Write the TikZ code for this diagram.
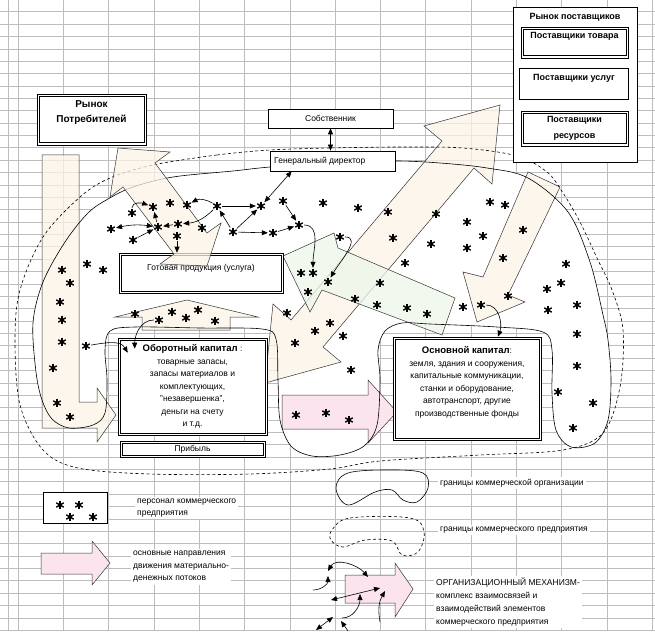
\documentclass[tikz,border=0pt]{standalone}
\usepackage{fontspec}
\setmainfont{Liberation Sans}
\usetikzlibrary{arrows.meta,calc}
\definecolor{flowpeach}{HTML}{FCF3E8}
\definecolor{flowgreen}{HTML}{EDF8EA}
\definecolor{flowpink}{HTML}{FCE4EF}
\definecolor{sheetgrid}{HTML}{BDBDBD}
\tikzset{
  gridline/.style={sheetgrid,line width=0.6pt},
  flow/.style={draw=black!80,line width=0.5pt,fill=flowpeach,fill opacity=0.75},
  flowgr/.style={flow,fill=flowgreen},
  flowpk/.style={flow,fill=flowpink,fill opacity=1},
  dbox/.style={draw,line width=0.6pt,fill=white,inner sep=0pt,path picture={
      \draw[line width=0.6pt] ([shift={(2.2pt,-2.2pt)}]path picture bounding box.north west)
        rectangle ([shift={(-2.2pt,2.2pt)}]path picture bounding box.south east);}},
  sbox/.style={draw,line width=0.6pt,fill=white,inner sep=0pt},
  pers/.style={circle,inner sep=0pt,minimum size=10pt,path picture={
      \foreach \a in {90,30,150}
        \draw[line width=1.4pt] (path picture bounding box.center) ++(\a:4.3pt) -- ++(\a+180:8.6pt);}},
  mech/.style={-{Triangle[length=6pt,width=5pt]},line width=0.6pt},
  mechtwo/.style={{Triangle[length=6pt,width=5pt]}-{Triangle[length=6pt,width=5pt]},line width=0.6pt},
  legtext/.style={fill=white,inner sep=2pt,anchor=west,align=left},
  headtext/.style={font=\fontsize{10}{15}\selectfont\bfseries,align=center},
  boldtext/.style={font=\fontsize{9}{16}\selectfont\bfseries,align=center}
}

\begin{document}
\begin{tikzpicture}[x=1pt,y=-1pt,font=\fontsize{8.5}{12.5}\selectfont]
\useasboundingbox (0,0) rectangle (655,631);
\fill[white] (0,0) rectangle (655,631);
\draw[gridline] (8,0) -- (8,631);
\foreach \i in {0,...,14}
  \draw[gridline] ({18+45.3*\i},0) -- ({18+45.3*\i},631);
\foreach \i in {0,...,50}
  \draw[gridline] (0,{11.7+12.37*\i}) -- (655,{11.7+12.37*\i});

\def\orgline{plot[smooth cycle,tension=0.55] coordinates {(270,167) (233,171) (173,177) (133,187) (108,199) (88,213) (65,242) (43,282) (33,323) (36,372) (42,400) (52,419) (69,428) (93,425) (105,413) (107,380) (105,350) (110,331) (135,327) (200,328) (262,329) (276,339) (278,380) (280,420) (291,446) (312,456) (340,455) (364,446) (377,425) (380,380) (378,350) (385,331) (402,323) (430,324) (497,327) (543,332) (552,350) (552,393) (556,430) (571,447) (595,443) (608,420) (611,380) (608,340) (603,315) (590,262) (568,212) (528,178) (487,168) (440,163) (395,161) (330,163)}}
\def\entline{plot[smooth cycle,tension=0.55] coordinates {(270,150) (217,155) (153,165) (110,178) (80,197) (43,237) (20,290) (15,340) (20,405) (43,450) (78,468) (150,474) (250,474) (330,469) (380,461) (480,455) (563,450) (603,433) (620,387) (623,330) (612,290) (597,258) (580,222) (563,193) (547,172) (517,156) (463,148) (400,147) (330,148)}}
\fill[white] \orgline;

\path[flow] (42,155) -- (79,155) -- (79,402) -- (97,402) -- (97,388) -- (116,415) -- (97,442) -- (97,428) -- (42,428) -- cycle;
\path[flow] (142,330) -- (142,317) -- (115,317) -- (187,300) -- (258,317) -- (230,317) -- (230,330) -- cycle;
\path[flow] (265,383) -- (341,362) -- (323,347) -- (474,168) -- (492,184) -- (500,105) -- (424,126) -- (442,141) -- (291,320) -- (273,304) -- cycle;
\path[flowgr] (455,298) -- (338,248) -- (334,233) -- (283,256) -- (310,312) -- (322,290) -- (442,335) -- cycle;
\path[flow] (528,172) -- (560,187) -- (508,295) -- (525,302) -- (477,322) -- (463,272) -- (483,277) -- cycle;
\path[flowpk] (282,395) -- (368,395) -- (368,380) -- (397,412) -- (368,443) -- (368,429) -- (282,429) -- cycle;

\draw[line width=0.6pt] \orgline;
\draw[line width=0.6pt,dash pattern=on 3pt off 2.5pt] \entline;

\node[dbox,minimum width=109pt,minimum height=51pt] (rp) at (91.5,119.5) {};
\node[headtext] (rpt) at (91.5,112.5) {Рынок\\Потребителей};
\node[sbox,minimum width=125pt,minimum height=19pt] (sob) at (330.5,118.5) {Собственник};
\node[sbox,minimum width=125pt,minimum height=20pt] (gd) at (332.5,161) {};
\node[anchor=west] (gdt) at ([xshift=1pt]gd.west) {Генеральный директор};

\node[sbox,minimum width=124pt,minimum height=155pt] (rs) at (575,84.5) {};
\node[boldtext] (rst) at (575,17) {Рынок поставщиков};
\node[dbox,minimum width=107pt,minimum height=31pt] (pt) at (574.5,42.5) {};
\node[boldtext] (ptt) at (574.5,36) {Поставщики товара};
\node[sbox,minimum width=109pt,minimum height=31pt] (pu) at (573.5,83.5) {};
\draw[line width=1.3pt] (pu.south west) -- (pu.south east);
\node[boldtext] (put) at (574,78) {Поставщики услуг};
\node[dbox,boldtext,minimum width=107pt,minimum height=35pt] (pr) at (574.5,128.5) {Поставщики\\ресурсов};

\node[dbox,minimum width=164pt,minimum height=40pt] (gp) at (201,273) {};
\node (gpt) at (201,268) {Готовая продукция (услуга)};
\node[dbox,minimum width=149pt,minimum height=97pt,align=center] (ob) at (192.5,386.5)
  {{\fontsize{9.5}{12.5}\selectfont\bfseries Оборотный капитал} :\\товарные запасы,\\запасы материалов и\\комплектующих,\\"незавершенка",\\деньги на счету\\и т.д.};
\node[dbox,minimum width=145pt,minimum height=16pt] (pb) at (192.5,449) {Прибыль};
\node[dbox,minimum width=148pt,minimum height=103pt] (ok) at (467,388.5) {};
\node[align=center] (okt) at (467,382.5)
  {{\fontsize{9.5}{12.5}\selectfont\bfseries Основной капитал}:\\земля, здания и сооружения,\\капитальные коммуникации,\\станки и оборудование,\\автотранспорт, другие\\производственные фонды};
\node[sbox,minimum width=64pt,minimum height=31pt] (lgp) at (75,507.5) {};

\path[flow] (118,148) -- (170,152) -- (155,163) -- (207,233) -- (221,223) -- (207,266) -- (160,264) -- (174,254) -- (123,187) -- (110,197) -- cycle;

\foreach \n/\x/\y in {A/132/213,B/153/207,C/187/205,D/217/206,E/261/206,F/283/201,G/111/229,H/133/240,I/158/227,J/178/224,K/177/236,L/233/232,M/273/233,N/299/225,O/340/237,P/313/273,Q/328/282,R/481/305,S/86/346,T/159/320}
  \node[pers] (\n) at (\x,\y) {};
\foreach \x/\y [count=\i] in {170/203,323/203,358/208,388/212,436/214,490/202,505/205,202/228,393/238,431/244,467/222,483/236,467/248,523/230,503/258,405/263,301/273,308/292,380/283,355/299,377/305,407/308,427/314,287/313,330/323,315/331,295/343,343/336,351/370,463/307,508/296,566/264,561/283,547/289,577/305,548/310,577/334,577/366,558/392,593/403,573/428,62/270,70/283,60/302,62/320,62/342,53/368,57/403,70/417,87/264,103/270,135/314,172/312,186/318,198/310,215/321,296/415,326/413,349/420,60/505,79/505,70/517,93/517}
  \node[pers] (p\i) at (\x,\y) {};

\draw[mechtwo] (sob.south) -- (sob.south |- gd.north);
\draw[mech] (A) to[out=90,in=160] (B);
\draw[mechtwo] (G) to[bend left=10] (I);
\draw[mech] (H) -- (I);
\draw[mech] (I) -- (B);
\draw[mech] (J) -- (I);
\draw[mech] (K) -- (K |- gp.north);
\draw[mech] (D) to[bend right=30] (C);
\draw[mech] (D) to[bend left=20] (J);
\draw[mech] (D) -- (E);
\draw[mech] (L) -- (D);
\draw[mech] (L) -- (E);
\draw[mech] (L) -- (M);
\draw[mech] (M) -- (N);
\draw[mechtwo] (E) -- ([xshift=22pt]gd.south west);
\draw[mech] (F) -- (N);
\draw[mech] (N) to[out=0,in=90] (P);
\draw[mech] (O) to[out=0,in=60] (Q);
\draw[mech] (R) to[out=0,in=70] ([xshift=31pt]ok.north);
\draw[mech] (S) to[out=10,in=120] ([xshift=10pt,yshift=-15pt]ob.north west);
\draw[mech] (T) to[out=180,in=90] ([xshift=17pt,yshift=-11pt]ob.north west);

\node[legtext] (lt1) at (135,508) {персонал коммерческого\\предприятия};
\path[flowpk] (41,553) -- (92,553) -- (92,541) -- (110,563) -- (92,585) -- (92,574) -- (41,574) -- cycle;
\node[legtext] (lt2) at (131,567) {основные направления\\движения материально-\\денежных потоков};

\draw[line width=0.6pt] plot[smooth cycle,tension=0.6] coordinates {(336,488) (348,473) (390,470) (423,473) (428,488) (417,502) (403,500) (392,490) (375,492) (348,505)};
\node[legtext] (lt3) at (438,483) {границы коммерческой организации};
\draw[line width=0.6pt,dash pattern=on 3pt off 2.5pt] plot[smooth cycle,tension=0.6] coordinates {(332,530) (350,518) (410,518) (424,532) (418,552) (402,555) (392,541) (365,540) (343,547) (331,540)};
\node[legtext] (lt4) at (438,530) {границы коммерческого предприятия};

\path[flowpk] (345,575) -- (395,575) -- (395,563) -- (413,589) -- (395,617) -- (395,603) -- (345,603) -- cycle;
\coordinate (m1a) at (313,590); \coordinate (m1b) at (328,576);
\coordinate (m2a) at (328,571); \coordinate (m2b) at (368,577);
\coordinate (m3a) at (331,600); \coordinate (m3b) at (380,588);
\coordinate (m4a) at (342,618); \coordinate (m4b) at (360,594);
\coordinate (m5a) at (380,622); \coordinate (m5b) at (385,591);
\coordinate (m6a) at (316,630); \coordinate (m6b) at (333,617);
\coordinate (m7a) at (348,631); \coordinate (m7b) at (341,621);
\draw[mech] (m1a) to[out=0,in=-90] (m1b);
\draw[mechtwo] (m2a) to[out=60,in=130] (m2b);
\draw[mechtwo] (m3a) -- (m3b);
\draw[mech] (m4a) to[out=0,in=-90] (m4b);
\draw[mech] (m5a) to[out=100,in=-120] (m5b);
\draw[mechtwo] (m6a) -- (m6b);
\draw[mech] (m7a) -- (m7b);
\node[legtext,font=\fontsize{8.5}{12.7}\selectfont] (lt5) at (434,602) {ОРГАНИЗАЦИОННЫЙ МЕХАНИЗМ-\\комплекс взаимосвязей и\\взаимодействий элементов\\коммерческого предприятия};
\end{tikzpicture}
\end{document}
